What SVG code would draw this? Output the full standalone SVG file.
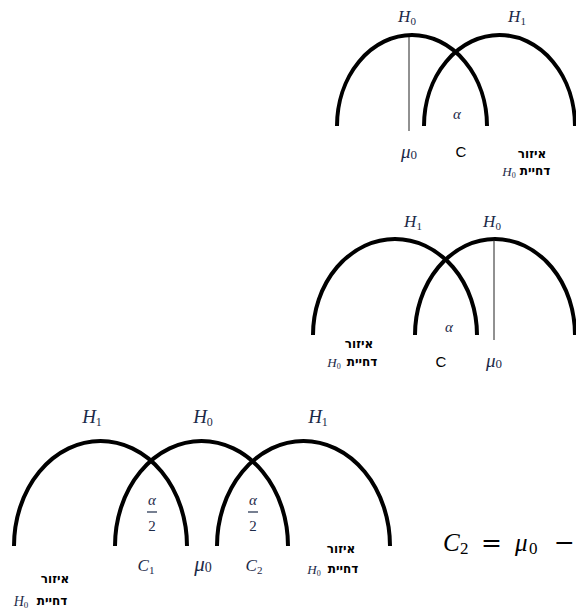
<svg xmlns="http://www.w3.org/2000/svg" width="576" height="612" viewBox="0 0 576 612">
<style>
.arc{fill:none;stroke:#000;stroke-width:4;stroke-linecap:butt}
.mean{stroke:#222;stroke-width:1}
.m{font-family:"Liberation Serif","DejaVu Serif",serif;font-style:italic;fill:#1c2a48;text-anchor:middle}
.m tspan.s{font-style:normal}
.up{font-family:"Liberation Serif","DejaVu Serif",serif;fill:#1c2a48;text-anchor:middle}
.c{font-family:"Liberation Sans",Arial,sans-serif;fill:#000;text-anchor:middle;font-size:15px}
.heb{font-family:"DejaVu Sans","Noto Sans",sans-serif;font-weight:bold;font-size:12px;fill:#000;text-anchor:middle}
.f{font-family:"Liberation Serif","DejaVu Serif",serif;fill:#000;font-size:25px}
.fi{font-style:italic}
.fs{font-size:17px}
.op{font-family:"DejaVu Serif",serif;font-size:25px}
</style>
<rect width="576" height="612" fill="#fff"/>

<g id="top">
  <g id="top-H0"><path class="arc" d="M337,126 A75,91 0 0 1 487,126"/></g>
  <g id="top-H1"><path class="arc" d="M424,126 A75.5,91 0 0 1 575,126"/></g>
  <line class="mean" x1="409" y1="37" x2="409" y2="131"/>
  <text class="m" x="407" y="22" font-size="17">H<tspan class="s" font-size="11" dy="3">0</tspan></text>
  <text class="m" x="517" y="22" font-size="17">H<tspan class="s" font-size="11" dy="3">1</tspan></text>
  <text class="m" x="457" y="119" font-size="15">α</text>
  <text class="m" x="409" y="158" font-size="19">μ<tspan class="s" font-size="13" dy="1">0</tspan></text>
  <text class="c" x="461" y="157">C</text>
  <text class="heb" x="532" y="158">איזור</text>
  <text class="heb" x="535" y="175">דחיית</text>
  <text class="m" x="509" y="176" font-size="13">H<tspan class="s" font-size="8" dy="2">0</tspan></text>
</g>

<g id="middle">
  <g id="mid-H1"><path class="arc" d="M313,335 A82,96 0 0 1 477,335"/></g>
  <g id="mid-H0"><path class="arc" d="M415,335 A80,96 0 0 1 575,335"/></g>
  <line class="mean" x1="494" y1="240" x2="494" y2="340"/>
  <text class="m" x="413" y="227" font-size="17">H<tspan class="s" font-size="11" dy="3">1</tspan></text>
  <text class="m" x="492" y="227" font-size="17">H<tspan class="s" font-size="11" dy="3">0</tspan></text>
  <text class="m" x="449" y="332" font-size="15">α</text>
  <text class="m" x="494" y="367" font-size="19">μ<tspan class="s" font-size="13" dy="1">0</tspan></text>
  <text class="c" x="441" y="367">C</text>
  <text class="heb" x="359" y="348">איזור</text>
  <text class="heb" x="362" y="366">דחיית</text>
  <text class="m" x="334" y="367" font-size="13">H<tspan class="s" font-size="8" dy="2">0</tspan></text>
</g>

<g id="bottom">
  <g id="bot-H1-left"><path class="arc" d="M14,546 A86.5,105 0 0 1 187,546"/></g>
  <g id="bot-H0"><path class="arc" d="M115,546 A86.5,105 0 0 1 288,546"/></g>
  <g id="bot-H1-right"><path class="arc" d="M217,546 A86.5,105 0 0 1 390,546"/></g>
  <text class="m" x="92" y="423" font-size="19">H<tspan class="s" font-size="12" dy="3">1</tspan></text>
  <text class="m" x="203" y="423" font-size="19">H<tspan class="s" font-size="12" dy="3">0</tspan></text>
  <text class="m" x="318" y="423" font-size="19">H<tspan class="s" font-size="12" dy="3">1</tspan></text>
  <text class="m" x="152" y="505" font-size="15">α</text>
  <line x1="147" y1="512" x2="157" y2="512" stroke="#1c2a48" stroke-width="1.2"/>
  <text class="up" x="152" y="531" font-size="15">2</text>
  <text class="m" x="253" y="505" font-size="15">α</text>
  <line x1="248" y1="512" x2="258" y2="512" stroke="#1c2a48" stroke-width="1.2"/>
  <text class="up" x="253" y="531" font-size="15">2</text>
  <text class="m" x="146" y="571" font-size="17">C<tspan class="s" font-size="11" dy="3">1</tspan></text>
  <text class="m" x="203" y="571" font-size="21">μ<tspan class="s" font-size="14" dy="1">0</tspan></text>
  <text class="m" x="254" y="571" font-size="17">C<tspan class="s" font-size="11" dy="3">2</tspan></text>
  <text class="heb" x="55" y="583">איזור</text>
  <text class="heb" x="52" y="605">דחיית</text>
  <text class="m" x="21" y="606" font-size="14">H<tspan class="s" font-size="9" dy="2">0</tspan></text>
  <text class="heb" x="341" y="553">איזור</text>
  <text class="heb" x="343" y="573">דחיית</text>
  <text class="m" x="314" y="574" font-size="13">H<tspan class="s" font-size="8" dy="2">0</tspan></text>
  <text class="f" y="551"><tspan class="fi" x="443">C</tspan><tspan class="fs" x="460" dy="3">2</tspan><tspan class="op" x="481" dy="-3">=</tspan><tspan class="fi" x="515">μ</tspan><tspan class="fs" x="529" dy="3">0</tspan><tspan class="op" x="554" dy="-3">−</tspan></text>
</g>
</svg>
